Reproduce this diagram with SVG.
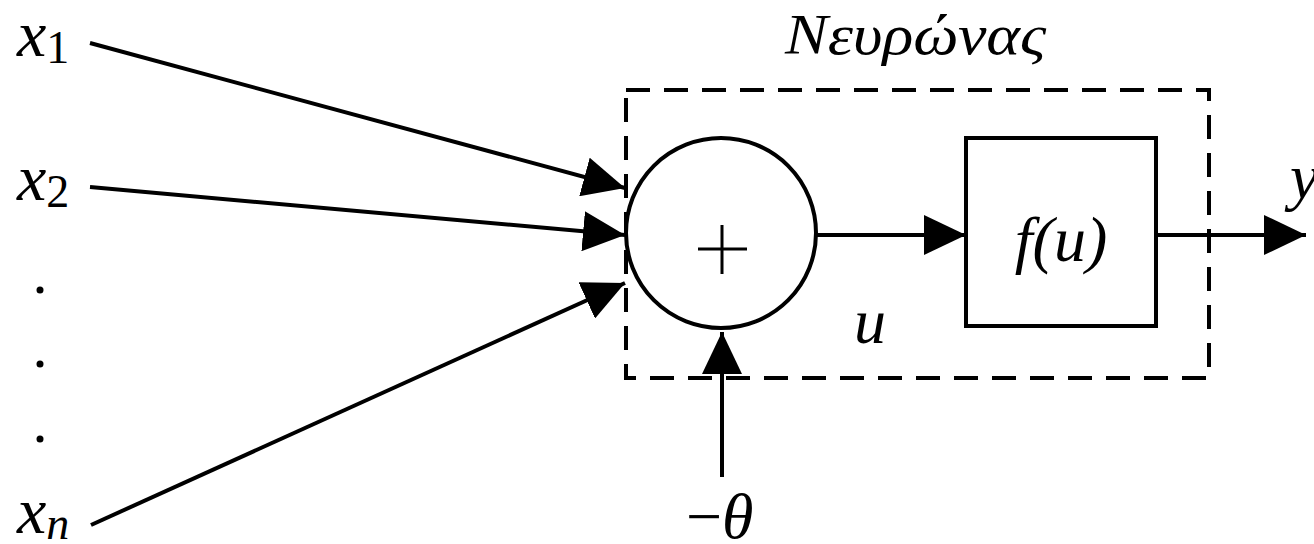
<svg xmlns="http://www.w3.org/2000/svg" width="1314" height="544" viewBox="0 0 1314 544">
<defs>
<marker id="ah" markerUnits="userSpaceOnUse" viewBox="0 0 42 40" markerWidth="42" markerHeight="40" refX="42" refY="20" orient="auto">
<path d="M0,0 L42,20 L0,40 z" fill="#000"/>
</marker>
</defs>
<rect width="1314" height="544" fill="#fff"/>
<g id="connectors" stroke="#000" stroke-width="4" fill="none" marker-end="url(#ah)">
<line x1="90" y1="43" x2="625" y2="188"/>
<line x1="90" y1="187" x2="625" y2="235"/>
<line x1="91" y1="525" x2="625" y2="283"/>
<line x1="815" y1="235" x2="966" y2="235"/>
<line x1="1156" y1="235" x2="1306" y2="235"/>
<line x1="722" y1="477" x2="722" y2="332"/>
</g>
<g id="neuron">
<rect x="626" y="90" width="583" height="288" fill="none" stroke="#000" stroke-width="4" stroke-dasharray="24 14"/>
<text x="785" y="54" font-size="58" font-family="Liberation Serif, serif" font-style="italic" textLength="261" lengthAdjust="spacingAndGlyphs">Νευρώνας</text>
</g>
<g id="sum">
<circle cx="721" cy="233" r="95" fill="#fff" stroke="#000" stroke-width="4"/>
<path d="M698,249 H747 M722,225 V274" stroke="#000" stroke-width="3" fill="none"/>
</g>
<g id="activation">
<rect x="966" y="138" width="190" height="188" fill="#fff" stroke="#000" stroke-width="4"/>
<text x="1061" y="261" font-size="64" font-family="Liberation Serif, serif" font-style="italic" text-anchor="middle">f(u)</text>
</g>
<g id="labels" font-family="Liberation Serif, serif">
<text x="17" y="56"><tspan font-size="66" font-style="italic">x</tspan><tspan font-size="46" dy="7">1</tspan></text>
<text x="17" y="200"><tspan font-size="66" font-style="italic">x</tspan><tspan font-size="46" dy="7">2</tspan></text>
<text x="17" y="533" font-style="italic"><tspan font-size="66">x</tspan><tspan font-size="46" dy="6">n</tspan></text>
<circle cx="40" cy="290" r="3.5"/>
<circle cx="40" cy="364" r="3.5"/>
<circle cx="40" cy="439" r="3.5"/>
<text x="854" y="343" font-size="64" font-style="italic">u</text>
<text x="1290" y="198" font-size="64" font-style="italic">y</text>
<text x="686" y="538" font-size="64">−<tspan font-style="italic">θ</tspan></text>
</g>
</svg>
